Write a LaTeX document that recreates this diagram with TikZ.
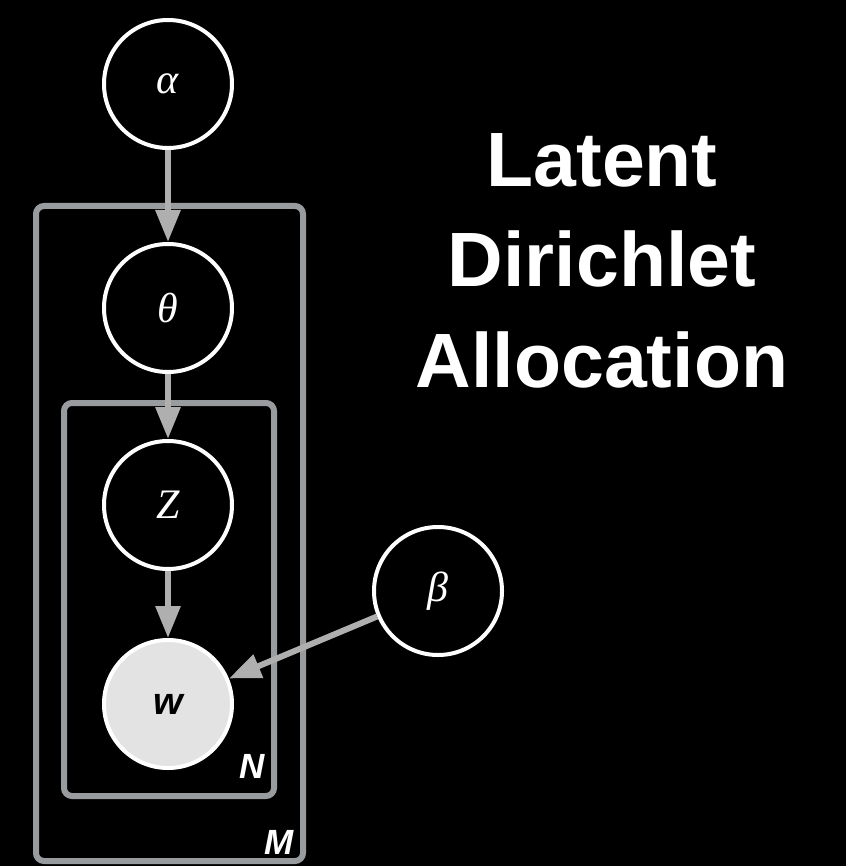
\documentclass[tikz,border=0pt]{standalone}
\usepackage{fontspec}
\setmainfont{Liberation Sans}
\newfontfamily\grk{Liberation Serif}
\usetikzlibrary{arrows.meta}
\definecolor{plate}{HTML}{999C9E}
\definecolor{arr}{HTML}{AFAFAF}
\definecolor{obs}{HTML}{E3E3E3}
\begin{document}
\begin{tikzpicture}[x=1pt,y=-1pt,
  var/.style={circle,draw=white,line width=4pt,minimum size=128pt,inner sep=0pt,text=white,
    font=\grk\itshape\fontsize{42}{42}\selectfont},
  platebox/.style={draw=plate,line width=6pt,rounded corners=8pt},
  edge/.style={draw=arr,line width=6pt,-{Triangle[length=32pt,width=24pt]}},
  lbl/.style={text=white,font=\fontsize{35}{35}\selectfont\bfseries\itshape},
  ttl/.style={text=white,anchor=base,font=\fontsize{77}{77}\selectfont\bfseries}]
\fill[black] (0,0) rectangle (846,866);
\useasboundingbox (0,0) rectangle (846,866);
\draw[platebox] (36,206) rectangle (303,861);
\draw[platebox] (64,403) rectangle (274,796);
\node[var] (alpha) at (168,84) {α};
\node[var] (theta) at (168,308) {θ};
\node[var] (z) at (168,505) {Z};
\node[var,fill=obs,text=black,font=\fontsize{38}{38}\selectfont\bfseries\itshape] (w) at (168,704) {w};
\node[var] (beta) at (438,591) {β};
\draw[edge] (alpha) -- (theta);
\draw[edge] (theta) -- (z);
\draw[edge] (z) -- (w);
\draw[edge] (beta) -- (w);
\node[lbl] (N) at (252,766) {N};
\node[lbl] (M) at (279,842) {M};
\node[ttl] (t1) at (602,187) {Latent};
\node[ttl] (t2) at (602,287) {Dirichlet};
\node[ttl] (t3) at (602,387) {Allocation};
\end{tikzpicture}
\end{document}
